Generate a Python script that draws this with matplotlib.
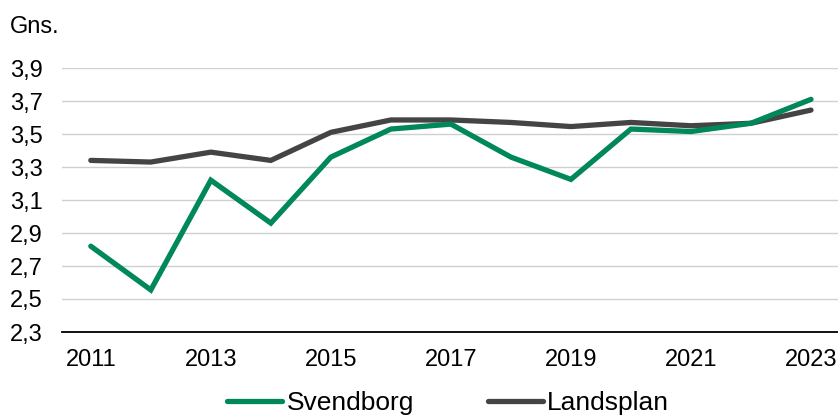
import matplotlib
matplotlib.use("Agg")
import matplotlib.pyplot as plt
from matplotlib.ticker import FixedLocator, FixedFormatter

years = [2011, 2012, 2013, 2014, 2015, 2016, 2017, 2018, 2019, 2020, 2021, 2022, 2023]
svendborg = [2.82, 2.555, 3.22, 2.96, 3.36, 3.53, 3.56, 3.36, 3.225, 3.53, 3.515, 3.565, 3.71]
landsplan = [3.34, 3.33, 3.39, 3.34, 3.51, 3.585, 3.585, 3.57, 3.545, 3.57, 3.55, 3.565, 3.645]
y_ticks = [2.3, 2.5, 2.7, 2.9, 3.1, 3.3, 3.5, 3.7, 3.9]
y_tick_labels = ["2,3", "2,5", "2,7", "2,9", "3,1", "3,3", "3,5", "3,7", "3,9"]
x_tick_years = [2011, 2013, 2015, 2017, 2019, 2021, 2023]
series_names = ["Svendborg", "Landsplan"]
colors = ["#00875A", "#444444"]

plt.rcParams['font.family'] = ['Liberation Sans', 'DejaVu Sans']

W, H = 838, 416
fig = plt.figure(figsize=(W / 100, H / 100), dpi=100)
ax = fig.add_axes([62 / W, (H - 332) / H, (838 - 62) / W, (332 - 68) / H])

idx = list(range(len(years)))
ax.plot(idx, svendborg, color=colors[0], lw=3.8, solid_capstyle='round',
        solid_joinstyle='miter', label=series_names[0], zorder=3)
ax.plot(idx, landsplan, color=colors[1], lw=3.8, solid_capstyle='round',
        solid_joinstyle='miter', label=series_names[1], zorder=2)

ax.set_ylim(y_ticks[0], y_ticks[-1])
ax.set_xlim(-0.48, 12.45)
ax.yaxis.set_major_locator(FixedLocator(y_ticks))
ax.yaxis.set_major_formatter(FixedFormatter(y_tick_labels))
ax.xaxis.set_major_locator(FixedLocator([years.index(y) for y in x_tick_years]))
ax.xaxis.set_major_formatter(FixedFormatter([str(y) for y in x_tick_years]))

ax.grid(axis='y', color='#d0d0d0', lw=1.0, zorder=0)
ax.set_axisbelow(True)
for s in ['top', 'right', 'left']:
    ax.spines[s].set_visible(False)
ax.spines['bottom'].set_color('#000000')
ax.spines['bottom'].set_linewidth(1.3)
ax.spines['bottom'].set_zorder(4)
ax.tick_params(axis='both', length=0, labelsize=17, colors='#000000')
ax.tick_params(axis='y', pad=14)
ax.tick_params(axis='x', pad=12)

fig.text(10 / W, (H - 27) / H, "Gns.", fontsize=17, ha='left', va='center')

leg = fig.legend(loc='center', bbox_to_anchor=(448 / W, (H - 403) / H), ncol=2,
                 frameon=False, fontsize=19, handlelength=2.1, handletextpad=0.15,
                 columnspacing=2.8, borderaxespad=0, borderpad=0)

fig.savefig("out.png", dpi=100)
